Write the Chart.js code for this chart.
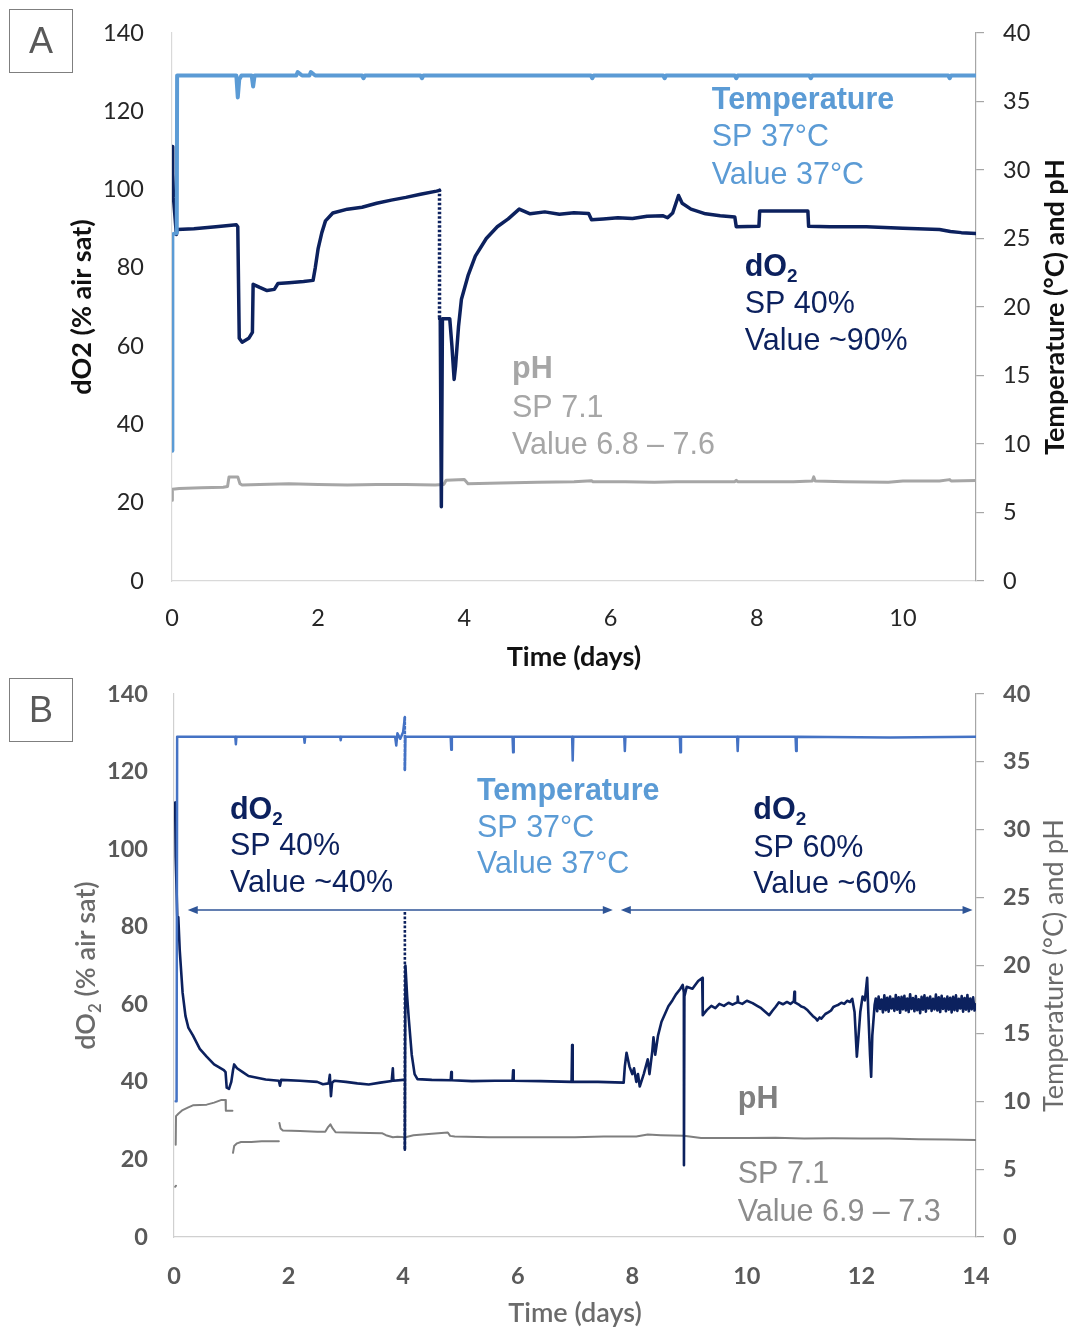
<!DOCTYPE html>
<html>
<head>
<meta charset="utf-8">
<title>Bioreactor run: dO2, temperature and pH</title>
<script src="https://cdn.jsdelivr.net/npm/chart.js@4.4.1/dist/chart.umd.min.js"></script>
<style>
  html, body { margin: 0; padding: 0; background: #fff; }
  #wrap { position: relative; width: 1073px; height: 1330px; overflow: hidden; }
  #wrap canvas { position: absolute; left: 0; }
  #cA { top: 0; }
  #cB { top: 665px; }
  .tag {
    position: absolute; left: 9px; width: 62px; height: 62px;
    border: 1.5px solid #7f7f7f; color: #595959;
    font: 36px "Liberation Sans", Arial, sans-serif;
    display: flex; align-items: center; justify-content: center;
  }
</style>
</head>
<body>
<div id="wrap">
  <canvas id="cA" width="1073" height="690"></canvas>
  <canvas id="cB" width="1073" height="665"></canvas>
  <div class="tag" style="top:9px">A</div>
  <div class="tag" style="top:678px">B</div>
</div>
<script>
// ---------------- Panel A: 11-day culture ----------------
const daysTicksA = [0, 2, 4, 6, 8, 10];
const dO2Ticks = [0, 20, 40, 60, 80, 100, 120, 140];
const tempPhTicks = [0, 5, 10, 15, 20, 25, 30, 35, 40];

// temperature (°C) vs time (days)
const tempA = [
  [0, 9.5], [0.005, 25.3], [0.065, 25.4], [0.07, 36.9], [0.5, 36.9], [0.88, 36.9], [0.9, 35.3], [0.92, 36.6],
  [0.95, 36.9], [1.09, 36.9], [1.11, 36.1], [1.13, 36.9], [1.5, 36.9], [1.7, 36.9], [1.72, 37.15], [1.78, 36.9],
  [1.88, 36.9], [1.9, 37.15], [1.96, 36.9], [2.6, 36.9], [2.62, 36.7], [2.64, 36.9], [3.4, 36.9], [3.42, 36.7],
  [3.44, 36.9], [5.73, 36.9], [5.75, 36.7], [5.77, 36.9], [6.72, 36.9], [6.74, 36.7], [6.76, 36.9], [7.7, 36.9],
  [7.72, 36.7], [7.74, 36.9], [8.72, 36.9], [8.74, 36.7], [8.76, 36.9], [10.62, 36.9], [10.64, 36.7],
  [10.66, 36.9], [11, 36.9]
];
// dissolved oxygen (% air sat) vs time (days)
const dO2A = [
  [0, 111], [0.01, 104], [0.02, 98], [0.06, 88.5], [0.07, 89.8], [0.3, 90], [0.6, 90.5], [0.88, 91],
  [0.9, 90.5], [0.92, 62], [0.96, 61], [1.05, 62], [1.1, 63.5], [1.11, 75.8], [1.2, 75], [1.3, 74.2],
  [1.4, 74.5], [1.45, 76], [1.6, 76.2], [1.8, 76.5], [1.93, 76.8], [1.96, 80], [2.0, 85], [2.05, 89],
  [2.1, 92], [2.2, 94], [2.4, 95], [2.6, 95.5], [2.8, 96.5], [3.0, 97.3], [3.2, 98], [3.4, 98.8],
  [3.62, 99.6], [3.66, 99.8], [3.66, 67], [3.67, 67], [3.685, 19], [3.7, 67], [3.8, 67], [3.83, 60],
  [3.86, 51.5], [3.88, 55], [3.92, 65], [3.96, 72], [4.05, 78], [4.15, 83], [4.3, 87.5], [4.45, 90.5],
  [4.6, 92.5], [4.75, 95], [4.9, 93.8], [5.1, 94.3], [5.3, 93.7], [5.5, 94.1], [5.7, 93.9], [5.74, 92.3],
  [5.9, 92.5], [6.1, 92.8], [6.3, 92.6], [6.5, 93.2], [6.72, 93.3], [6.78, 92.8], [6.85, 94], [6.93, 98.5],
  [6.98, 96.5], [7.1, 95], [7.3, 93.8], [7.5, 93.3], [7.7, 93], [7.72, 90.5], [8.03, 90.6], [8.04, 94.5],
  [8.7, 94.5], [8.71, 90.6], [9.0, 90.5], [9.5, 90.5], [10.0, 90.1], [10.5, 89.8], [10.65, 89.3],
  [10.8, 89], [11, 88.8]
];
// pH vs time (days)
const pHA = [
  [0, 5.9], [0.005, 6.7], [0.1, 6.75], [0.4, 6.8], [0.7, 6.85], [0.76, 6.9], [0.78, 7.6], [0.9, 7.6],
  [0.93, 7.1], [0.96, 7.0], [1.2, 7.05], [1.6, 7.1], [2.0, 7.05], [2.4, 7.0], [2.8, 7.05], [3.2, 7.05],
  [3.6, 7.0], [3.72, 7.05], [3.75, 7.35], [4.0, 7.4], [4.05, 7.1], [4.5, 7.15], [5.0, 7.2], [5.5, 7.25],
  [5.74, 7.32], [5.76, 7.25], [6.2, 7.25], [6.6, 7.2], [6.9, 7.25], [7.7, 7.25], [7.72, 7.35], [7.74, 7.25],
  [8.5, 7.25], [8.76, 7.3], [8.78, 7.6], [8.8, 7.3], [9.2, 7.25], [9.8, 7.2], [10.0, 7.3], [10.5, 7.3],
  [10.64, 7.4], [10.66, 7.3], [11, 7.33]
];

// ---------------- Panel B: 14-day culture ----------------
const daysTicksB = [0, 2, 4, 6, 8, 10, 12, 14];

const tempB = [
  [0.03, 10], [0.045, 10], [0.055, 36.85], [1.07, 36.85], [1.08, 36.3], [1.09, 36.85], [2.27, 36.85],
  [2.28, 36.4], [2.29, 36.85], [2.9, 36.85], [2.91, 36.6], [2.92, 36.85], [3.86, 36.85], [3.88, 36.2],
  [3.9, 37.1], [3.95, 36.7], [4.0, 37.2], [4.03, 38.3], [4.03, 34.4], [4.04, 36.85], [4.83, 36.85],
  [4.84, 35.9], [4.85, 36.85], [5.91, 36.85], [5.92, 35.7], [5.93, 36.85], [6.95, 36.85], [6.96, 35.1],
  [6.97, 36.85], [7.86, 36.85], [7.87, 35.8], [7.88, 36.85], [8.83, 36.85], [8.84, 35.7], [8.85, 36.85],
  [9.83, 36.85], [9.84, 35.8], [9.85, 36.85], [10.85, 36.85], [10.86, 35.8], [10.87, 36.85],
  [12.5, 36.8], [14, 36.85]
];
const dO2B = [
  [0.02, 112], [0.03, 98], [0.06, 81], [0.075, 82.5], [0.1, 74], [0.15, 63], [0.2, 57], [0.25, 54],
  [0.33, 52], [0.45, 48.5], [0.57, 46.5], [0.7, 44.5], [0.87, 43], [0.9, 42.5], [0.92, 38.5], [0.96, 38.2],
  [1.0, 40], [1.03, 43], [1.05, 44.5], [1.1, 43.5], [1.2, 42.5], [1.3, 41.5], [1.47, 41], [1.6, 40.6],
  [1.83, 40.3], [1.85, 39], [1.87, 40.5], [2.2, 40.3], [2.5, 40], [2.6, 39.4], [2.7, 39.6], [2.72, 41.8],
  [2.74, 36.3], [2.76, 39.8], [2.8, 40.3], [3.0, 40], [3.2, 39.6], [3.4, 39.3], [3.6, 39.8], [3.8, 40.2],
  [3.82, 43.5], [3.83, 40.3], [4.0, 40.5], [4.03, 40.5], [4.03, 84], [4.03, 22.5], [4.04, 70], [4.07, 62],
  [4.1, 56], [4.15, 47], [4.2, 42], [4.25, 40.7], [4.5, 40.5], [4.83, 40.4], [4.84, 42.5], [4.85, 40.4],
  [5.2, 40.2], [5.6, 40.3], [5.91, 40.3], [5.92, 43], [5.93, 40.3], [6.4, 40.2], [6.94, 40], [6.95, 49.5],
  [6.96, 40], [7.4, 40], [7.85, 39.8], [7.87, 44], [7.9, 47.5], [7.95, 44], [8.0, 42], [8.03, 43.5],
  [8.07, 40], [8.1, 42], [8.13, 38.8], [8.2, 42], [8.27, 45.8], [8.3, 42], [8.35, 48], [8.37, 51.5],
  [8.4, 47], [8.45, 52], [8.51, 55.5], [8.57, 57.5], [8.63, 59.5], [8.7, 61], [8.76, 62.5], [8.84, 64],
  [8.88, 65], [8.9, 63], [8.902, 18.5], [8.91, 62], [8.95, 64.5], [9.05, 64], [9.15, 66], [9.22, 66.8],
  [9.23, 57.2], [9.3, 58.5], [9.38, 59.6], [9.45, 59], [9.52, 60.1], [9.6, 59.6], [9.68, 60.4], [9.75, 59.9],
  [9.83, 60.5], [9.84, 62], [9.85, 60.5], [9.92, 60.1], [10.0, 60.9], [10.1, 60.3], [10.18, 59.6],
  [10.25, 59], [10.32, 58.1], [10.39, 57.2], [10.45, 58.4], [10.5, 59.3], [10.56, 60.5], [10.63, 60],
  [10.7, 60.6], [10.76, 60.1], [10.82, 60.8], [10.83, 63.2], [10.84, 60.5], [10.9, 60], [10.95, 59.4],
  [11.0, 59.2], [11.05, 58.6], [11.1, 57.8], [11.15, 57], [11.2, 56.4], [11.23, 55.8], [11.27, 56.6],
  [11.3, 56.3], [11.37, 57.5], [11.42, 57.9], [11.47, 58.4], [11.51, 59.3], [11.55, 59.6], [11.6, 59.9],
  [11.65, 60.4], [11.7, 60.1], [11.75, 60.9], [11.8, 60.6], [11.84, 61.4], [11.88, 58], [11.92, 46.5],
  [11.95, 52], [11.98, 58], [12.02, 62], [12.06, 61], [12.1, 66.8], [12.12, 58], [12.15, 47], [12.17, 41.3],
  [12.19, 52], [12.23, 59.8],
  [12.25, 61.5], [12.275, 58.2], [12.3, 62], [12.325, 58.8], [12.35, 61.2], [12.375, 57.9], [12.4, 62.3],
  [12.425, 58.5], [12.45, 61.7], [12.475, 58.1], [12.5, 62], [12.525, 58.9], [12.55, 61.4], [12.575, 58.3],
  [12.6, 62.4], [12.625, 58.6], [12.65, 61.8], [12.675, 57.8], [12.7, 61.9], [12.725, 58.7], [12.75, 62.2],
  [12.775, 58.4], [12.8, 61.5], [12.825, 58], [12.85, 62.6], [12.875, 58.8], [12.9, 61.6], [12.925, 58.2],
  [12.95, 62.1], [12.975, 58.5], [13.0, 61.3], [13.025, 57.7], [13.05, 61.9], [13.075, 58.6], [13.1, 62.3],
  [13.125, 58.1], [13.15, 61.7], [13.175, 58.9], [13.2, 62], [13.225, 58.3], [13.25, 61.4], [13.275, 58.7],
  [13.3, 62.5], [13.325, 58.4], [13.35, 61.8], [13.375, 58], [13.4, 62.2], [13.425, 58.8], [13.45, 61.5],
  [13.475, 58.2], [13.5, 62], [13.525, 58.6], [13.55, 61.7], [13.575, 57.9], [13.6, 61.9], [13.625, 58.5],
  [13.65, 62.3], [13.675, 58.3], [13.7, 61.4], [13.725, 58.9], [13.75, 62.1], [13.775, 58.1], [13.8, 61.6],
  [13.825, 58.6], [13.85, 62.4], [13.875, 58.2], [13.9, 61.5], [13.925, 58.7], [13.95, 61.8], [13.975, 58.4],
  [14, 60]
];
// null entries mark the breaks in the pH record
const pHB = [
  [0.02, 3.7], [0.035, 3.78], [0.036, null],
  [0.03, 6.8], [0.035, 8.9], [0.08, 9.1], [0.15, 9.35], [0.25, 9.55], [0.33, 9.7], [0.45, 9.72],
  [0.57, 9.75], [0.7, 9.9], [0.83, 10.1], [0.9, 10.1], [0.905, 9.3], [1.02, 9.3], [1.025, null],
  [1.03, 6.2], [1.05, 6.7], [1.1, 6.9], [1.17, 7.0], [1.35, 7.0], [1.53, 7.05], [1.83, 7.05], [1.835, null],
  [1.84, 8.4], [1.86, 8.0], [1.9, 7.85], [2.2, 7.8], [2.5, 7.75], [2.64, 7.75], [2.69, 8.1], [2.73, 8.3],
  [2.77, 8.0], [2.82, 7.72], [3.2, 7.68], [3.63, 7.65], [3.7, 7.5], [3.82, 7.35], [3.9, 7.38], [4.04, 7.35],
  [4.18, 7.5], [4.5, 7.6], [4.78, 7.7], [4.82, 7.45], [4.9, 7.4], [5.5, 7.35], [6.39, 7.35], [7.0, 7.35],
  [7.5, 7.4], [8.07, 7.4], [8.27, 7.55], [8.5, 7.5], [8.9, 7.45], [9.2, 7.3], [10.0, 7.3], [10.5, 7.32],
  [11.0, 7.25], [11.5, 7.27], [12.0, 7.25], [12.5, 7.25], [13.0, 7.2], [13.5, 7.18], [14, 7.14]
];
// set-point periods (days) marked with double arrows, drawn at dO2 = 84.3
const spPeriodsB = [[0.24, 7.66], [7.8, 13.94]];
const spArrowLevelB = 84.3;

// ---------------- shared styling ----------------
const TICK_FONT = 'Lato, "DejaVu Sans", sans-serif';
const NOTE_FONT = '"Liberation Sans", Arial, sans-serif';
const C = {
  tempTextA: '#5b9bd5', tempLineA: '#5b9bd5', tempLineB: '#4472c4',
  navy: '#0c215e', phA: '#a6a6a6', phTextB: '#808080', phLineB: '#7f7f7f',
  arrow: '#2f5597'
};

const sub = t => ({ t, sub: true });

// annotation text: x in days, y in % air sat (baseline of the line)
const notesA = [
  { x: 7.385, y: 120.7, runs: ['Temperature'], bold: true, color: C.tempTextA },
  { x: 7.385, y: 111.2, runs: ['SP 37°C'], color: C.tempTextA },
  { x: 7.385, y: 101.5, runs: ['Value 37°C'], color: C.tempTextA },
  { x: 7.835, y: 77.9, runs: ['dO', sub('2')], bold: true, color: C.navy },
  { x: 7.835, y: 68.5, runs: ['SP 40%'], color: C.navy },
  { x: 7.835, y: 59.1, runs: ['Value ~90%'], color: C.navy },
  { x: 4.652, y: 51.9, runs: ['pH'], bold: true, color: C.phA },
  { x: 4.652, y: 41.9, runs: ['SP 7.1'], color: C.phA },
  { x: 4.652, y: 32.5, runs: ['Value 6.8 – 7.6'], color: C.phA }
];
const notesB = [
  { x: 0.977, y: 107.9, runs: ['dO', sub('2')], bold: true, color: C.navy },
  { x: 0.977, y: 98.5, runs: ['SP 40%'], color: C.navy },
  { x: 0.977, y: 89.0, runs: ['Value ~40%'], color: C.navy },
  { x: 5.289, y: 112.7, runs: ['Temperature'], bold: true, color: C.tempTextA },
  { x: 5.289, y: 103.2, runs: ['SP 37°C'], color: C.tempTextA },
  { x: 5.289, y: 93.8, runs: ['Value 37°C'], color: C.tempTextA },
  { x: 10.112, y: 107.8, runs: ['dO', sub('2')], bold: true, color: C.navy },
  { x: 10.112, y: 98.0, runs: ['SP 60%'], color: C.navy },
  { x: 10.112, y: 88.8, runs: ['Value ~60%'], color: C.navy },
  { x: 9.841, y: 33.2, runs: ['pH'], bold: true, color: C.phTextB },
  { x: 9.841, y: 13.8, runs: ['SP 7.1'], color: '#8c8c8c' },
  { x: 9.841, y: 4.1, runs: ['Value 6.9 – 7.3'], color: '#8c8c8c' }
];

function runsWidth(ctx, runs, size, weight, family) {
  let w = 0;
  for (const r of runs) {
    const o = typeof r === 'string' ? { t: r } : r;
    ctx.font = `${weight} ${o.sub ? size * 0.62 : size}px ${family}`;
    w += ctx.measureText(o.t).width;
  }
  return w;
}
function drawRuns(ctx, runs, x, y, size, weight, family) {
  let cx = x;
  ctx.textAlign = 'left';
  ctx.textBaseline = 'alphabetic';
  for (const r of runs) {
    const o = typeof r === 'string' ? { t: r } : r;
    ctx.font = `${weight} ${o.sub ? size * 0.62 : size}px ${family}`;
    ctx.fillText(o.t, cx, o.sub ? y + size * 0.2 : y);
    cx += ctx.measureText(o.t).width;
  }
}
function drawArrowHead(ctx, x, y, dir) {
  ctx.beginPath();
  ctx.moveTo(x, y);
  ctx.lineTo(x - dir * 10, y - 4);
  ctx.lineTo(x - dir * 10, y + 4);
  ctx.closePath();
  ctx.fill();
}

const panelText = {
  id: 'panelText',
  afterDatasetsDraw(chart, args, o) {
    const { ctx, chartArea: a, scales } = chart;
    const xs = scales.x, ys = scales.y;
    ctx.save();
    for (const n of o.notes) {
      ctx.fillStyle = n.color;
      drawRuns(ctx, n.runs, xs.getPixelForValue(n.x), ys.getPixelForValue(n.y), o.noteSize, n.bold ? 'bold' : 'normal', NOTE_FONT);
    }
    if (o.arrows) {
      ctx.strokeStyle = C.arrow;
      ctx.fillStyle = C.arrow;
      ctx.lineWidth = 1.6;
      const py = ys.getPixelForValue(o.arrowLevel);
      for (const [d0, d1] of o.arrows) {
        const p0 = xs.getPixelForValue(d0), p1 = xs.getPixelForValue(d1);
        ctx.beginPath();
        ctx.moveTo(p0 + 4, py);
        ctx.lineTo(p1 - 4, py);
        ctx.stroke();
        drawArrowHead(ctx, p0, py, -1);
        drawArrowHead(ctx, p1, py, 1);
      }
    }
    // axis titles
    const t = o.titles;
    const cy = (a.top + a.bottom) / 2;
    for (const key of ['left', 'right']) {
      const s = t[key];
      const w = runsWidth(ctx, s.runs, s.size, s.weight, TICK_FONT);
      ctx.save();
      ctx.translate(s.x, cy);
      ctx.rotate(-Math.PI / 2);
      ctx.fillStyle = s.color;
      drawRuns(ctx, s.runs, -w / 2, s.size * 0.35, s.size, s.weight, TICK_FONT);
      ctx.restore();
    }
    const b = t.bottom;
    const bw = runsWidth(ctx, b.runs, b.size, b.weight, TICK_FONT);
    ctx.fillStyle = b.color;
    drawRuns(ctx, b.runs, (a.left + a.right) / 2 - bw / 2, b.y + b.size * 0.35, b.size, b.weight, TICK_FONT);
    ctx.restore();
  }
};

const toXY = arr => arr.map(([x, y]) => ({ x, y }));
const tickList = list => scale => { scale.ticks = list.map(v => ({ value: v })); };
const isVertical = c => c.p0.parsed.x === c.p1.parsed.x;
// instantaneous jumps in the logged record are drawn dotted
const dashVertical = {
  borderDash: c => (isVertical(c) ? [1.5, 3] : undefined),
  borderCapStyle: c => (isVertical(c) ? 'butt' : undefined)
};
// vertical axes: fixed width, and no extra top/bottom room for the end labels
const fixWidth = w => s => { s.width = w; s.paddingTop = 0; s.paddingBottom = 0; };

function makePanel(canvasId, p) {
  const tickFont = { family: TICK_FONT, size: 23.5, weight: p.tickWeight };
  const canvas = document.getElementById(canvasId);
  const chart = new Chart(canvas, {
    type: 'line',
    data: {
      datasets: [
        { label: 'Temperature', data: toXY(p.temp), yAxisID: 'y2', borderColor: p.tempColor, borderWidth: p.lw.temp, segment: dashVertical },
        { label: 'dO2', data: toXY(p.dO2), yAxisID: 'y', borderColor: C.navy, borderWidth: p.lw.dO2, segment: dashVertical },
        { label: 'pH', data: toXY(p.pH), yAxisID: 'y2', borderColor: p.phColor, borderWidth: p.lw.pH, spanGaps: false }
      ]
    },
    options: {
      responsive: false,
      animation: false,
      events: [],
      devicePixelRatio: 1,
      layout: { autoPadding: false, padding: { top: p.area.top, left: 0, right: 0, bottom: 0 } },
      elements: { point: { radius: 0 }, line: { tension: 0, borderJoinStyle: 'round', borderCapStyle: 'round' } },
      plugins: {
        legend: { display: false },
        tooltip: { enabled: false },
        panelText: { notes: p.notes, noteSize: 30.5, arrows: p.arrows, arrowLevel: p.arrowLevel, titles: p.titles }
      },
      scales: {
        x: {
          type: 'linear', position: 'bottom', min: 0, max: p.xMax,
          afterBuildTicks: tickList(p.xTicks),
          afterFit: s => { s.height = canvas.height - p.area.bottom; },
          grid: { display: false, drawTicks: false },
          border: { display: true, color: p.axisColor, width: 1.2 },
          ticks: { font: tickFont, color: p.tickColor, padding: p.xPad, maxRotation: 0 }
        },
        y: {
          type: 'linear', position: 'left', min: 0, max: 140,
          afterBuildTicks: tickList(dO2Ticks),
          afterFit: fixWidth(p.area.left),
          grid: { display: false, drawTicks: false },
          border: { display: true, color: p.axisColor, width: 1.2 },
          ticks: { font: tickFont, color: p.tickColor, padding: p.yPad }
        },
        y2: {
          type: 'linear', position: 'right', min: 0, max: 40,
          afterBuildTicks: tickList(tempPhTicks),
          afterFit: fixWidth(canvas.width - p.area.right),
          grid: { display: true, drawOnChartArea: false, drawTicks: true, tickLength: 8, color: '#a6a6a6', lineWidth: 1.2 },
          border: { display: true, color: '#a6a6a6', width: 1.2 },
          ticks: { font: tickFont, color: p.tickColor, padding: 19 }
        }
      }
    },
    plugins: [panelText]
  });
  // keep the plot area's top edge where it belongs
  for (let i = 0; i < 3; i++) {
    const dt = chart.chartArea.top - p.area.top;
    if (Math.abs(dt) < 0.5) break;
    chart.options.layout.padding.top -= dt;
    chart.update();
  }
  return chart;
}

makePanel('cA', {
  area: { left: 172, right: 976, top: 33, bottom: 581 },
  xMax: 11, xTicks: daysTicksA,
  temp: tempA, dO2: dO2A, pH: pHA,
  tempColor: C.tempLineA, phColor: C.phA,
  lw: { temp: 4, dO2: 3.5, pH: 3 },
  tickColor: '#262626', tickWeight: 'normal', axisColor: '#d9d9d9',
  xPad: 23, yPad: 28,
  notes: notesA,
  titles: {
    left: { runs: ['dO2 (% air sat)'], x: 82, size: 27, weight: 'bold', color: '#111' },
    right: { runs: ['Temperature (°C) and pH'], x: 1055, size: 27, weight: 'bold', color: '#111' },
    bottom: { runs: ['Time (days)'], y: 657, size: 27, weight: 'bold', color: '#111' }
  }
});

makePanel('cB', {
  area: { left: 174, right: 976, top: 29, bottom: 572 },
  xMax: 14, xTicks: daysTicksB,
  temp: tempB, dO2: dO2B, pH: pHB,
  tempColor: C.tempLineB, phColor: C.phLineB,
  lw: { temp: 2.5, dO2: 2.6, pH: 2 },
  tickColor: '#595959', tickWeight: 'bold', axisColor: '#d0d0d0',
  xPad: 25, yPad: 26,
  notes: notesB,
  arrows: spPeriodsB, arrowLevel: spArrowLevelB,
  titles: {
    left: { runs: ['dO', sub('2'), ' (% air sat)'], x: 86, size: 27, weight: '600', color: '#6b6b6b' },
    right: { runs: ['Temperature (°C) and pH'], x: 1054, size: 27, weight: 'normal', color: '#6b6b6b' },
    bottom: { runs: ['Time (days)'], y: 648, size: 27, weight: '600', color: '#6b6b6b' }
  }
});
</script>
</body>
</html>
